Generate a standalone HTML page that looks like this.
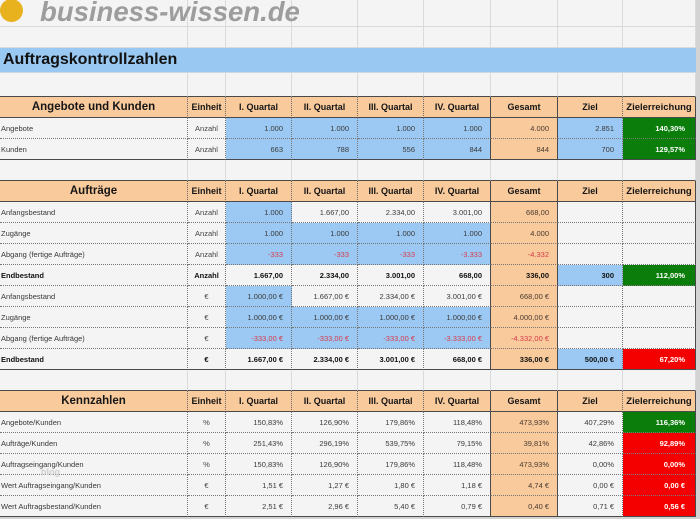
<!DOCTYPE html>
<html><head><meta charset="utf-8">
<style>
html,body{margin:0;padding:0}
body{width:700px;height:519px;overflow:hidden;background:#d3d3d3;position:relative;font-family:"Liberation Sans",Arial,sans-serif}
.g{position:absolute;left:0;top:0;width:696px;display:grid;
grid-template-columns:188px 38px 66px 66px 66px 67px 67px 65px 73px;
grid-template-rows:27px 21px 25px 24px 21px 21px 21px 21px 21px 21px 21px 21px 21px 21px 21px 21px 21px 21px 21px 21px 21px 21px 21px 21px;}
.g>*{box-sizing:border-box;display:flex;align-items:center;background:#f4f4f4;border-right:1px solid #dadada;border-bottom:1px solid #dadada;font-size:7.5px;color:#3a3a3a;white-space:nowrap;overflow:hidden}
.tb{border-bottom:1px solid #4a4a4a}
.title{grid-column:1 / span 9;background:#99c8f2;font-weight:bold;font-size:16px;color:#111;padding-left:3px;border-right:none;border-bottom:1px solid #cfd8e0}
.h{background:#f8ca9c;font-weight:bold;font-size:9px;color:#161616;justify-content:center;border-bottom:1px solid #4a4a4a;border-right:1px dotted #6a6a6a}
.hA{font-size:11.5px}
.hZ{font-size:9.5px}
.l{padding-left:1px;border-right:1px dotted #777;border-bottom:1px dotted #777;color:#383838}
.u{justify-content:center;border-right:1px dotted #777;border-bottom:1px dotted #777;color:#444}
.n{justify-content:flex-end;padding-right:8px;border-right:1px dotted #777;border-bottom:1px dotted #777;color:#3a3a3a}
.B{background:#9cc9f3}
.P{background:#f8ca9c;color:#4a3a30}
.G{background:#0b7d0b;color:#fff;font-weight:bold;padding-right:10px}
.R{background:#f50000;color:#fff;font-weight:bold;padding-right:10px}
.r{color:#d83a4a}
.b{font-weight:bold;color:#111}
.s{border-right:1px solid #4a4a4a}
.z{border-bottom:1px solid #4a4a4a}
.logo{position:absolute;left:0;top:-1px;width:23px;height:23px;border-radius:50%;background:#e8b21e}
.brand{position:absolute;left:40px;top:-2px;line-height:27px;font-size:27.5px;font-weight:bold;font-style:italic;color:#9d9d9d;white-space:nowrap}
.blog{position:absolute;left:41px;top:467px;font-size:9px;font-weight:bold;color:#cfcfcf}
</style></head><body>
<div class="g">
<!-- row 1 -->
<div></div><div></div><div></div><div></div><div></div><div></div><div></div><div></div><div></div>
<!-- row 2 -->
<div></div><div></div><div></div><div></div><div></div><div></div><div></div><div></div><div></div>
<!-- row 3 -->
<div class="title">Auftragskontrollzahlen</div>
<!-- row 4 -->
<div class="tb"></div><div class="tb"></div><div class="tb"></div><div class="tb"></div><div class="tb"></div><div class="tb"></div><div class="tb"></div><div class="tb"></div><div class="tb"></div>
<!-- row 5 header -->
<div class="h hA">Angebote und Kunden</div><div class="h">Einheit</div><div class="h">I. Quartal</div><div class="h">II. Quartal</div><div class="h">III. Quartal</div><div class="h s">IV. Quartal</div><div class="h s">Gesamt</div><div class="h">Ziel</div><div class="h hZ s">Zielerreichung</div>
<!-- row 6 -->
<div class="l">Angebote</div><div class="u">Anzahl</div><div class="n B">1.000</div><div class="n B">1.000</div><div class="n B">1.000</div><div class="n B s">1.000</div><div class="n P s">4.000</div><div class="n B">2.851</div><div class="n G s">140,30%</div>
<!-- row 7 -->
<div class="l z">Kunden</div><div class="u z">Anzahl</div><div class="n B z">663</div><div class="n B z">788</div><div class="n B z">556</div><div class="n B s z">844</div><div class="n P s z">844</div><div class="n B z">700</div><div class="n G s z">129,57%</div>
<!-- row 8 -->
<div class="tb"></div><div class="tb"></div><div class="tb"></div><div class="tb"></div><div class="tb"></div><div class="tb"></div><div class="tb"></div><div class="tb"></div><div class="tb"></div>
<!-- row 9 header -->
<div class="h hA">Aufträge</div><div class="h">Einheit</div><div class="h">I. Quartal</div><div class="h">II. Quartal</div><div class="h">III. Quartal</div><div class="h s">IV. Quartal</div><div class="h s">Gesamt</div><div class="h">Ziel</div><div class="h hZ s">Zielerreichung</div>
<!-- row 10 -->
<div class="l">Anfangsbestand</div><div class="u">Anzahl</div><div class="n B">1.000</div><div class="n">1.667,00</div><div class="n">2.334,00</div><div class="n s">3.001,00</div><div class="n P s">668,00</div><div class="n"></div><div class="n s"></div>
<!-- row 11 -->
<div class="l">Zugänge</div><div class="u">Anzahl</div><div class="n B">1.000</div><div class="n B">1.000</div><div class="n B">1.000</div><div class="n B s">1.000</div><div class="n P s">4.000</div><div class="n"></div><div class="n s"></div>
<!-- row 12 -->
<div class="l">Abgang (fertige Aufträge)</div><div class="u">Anzahl</div><div class="n B r">-333</div><div class="n B r">-333</div><div class="n B r">-333</div><div class="n B s r">-3.333</div><div class="n P s r">-4.332</div><div class="n"></div><div class="n s"></div>
<!-- row 13 -->
<div class="l b">Endbestand</div><div class="u b">Anzahl</div><div class="n b">1.667,00</div><div class="n b">2.334,00</div><div class="n b">3.001,00</div><div class="n b s">668,00</div><div class="n P b s">336,00</div><div class="n B b">300</div><div class="n G s">112,00%</div>
<!-- row 14 -->
<div class="l">Anfangsbestand</div><div class="u">€</div><div class="n B">1.000,00 €</div><div class="n">1.667,00 €</div><div class="n">2.334,00 €</div><div class="n s">3.001,00 €</div><div class="n P s">668,00 €</div><div class="n"></div><div class="n s"></div>
<!-- row 15 -->
<div class="l">Zugänge</div><div class="u">€</div><div class="n B">1.000,00 €</div><div class="n B">1.000,00 €</div><div class="n B">1.000,00 €</div><div class="n B s">1.000,00 €</div><div class="n P s">4.000,00 €</div><div class="n"></div><div class="n s"></div>
<!-- row 16 -->
<div class="l">Abgang (fertige Aufträge)</div><div class="u">€</div><div class="n B r">-333,00 €</div><div class="n B r">-333,00 €</div><div class="n B r">-333,00 €</div><div class="n B s r">-3.333,00 €</div><div class="n P s r">-4.332,00 €</div><div class="n"></div><div class="n s"></div>
<!-- row 17 -->
<div class="l b z">Endbestand</div><div class="u b z">€</div><div class="n b z">1.667,00 €</div><div class="n b z">2.334,00 €</div><div class="n b z">3.001,00 €</div><div class="n b s z">668,00 €</div><div class="n P b s z">336,00 €</div><div class="n B b z">500,00 €</div><div class="n R s z">67,20%</div>
<!-- row 18 -->
<div class="tb"></div><div class="tb"></div><div class="tb"></div><div class="tb"></div><div class="tb"></div><div class="tb"></div><div class="tb"></div><div class="tb"></div><div class="tb"></div>
<!-- row 19 header -->
<div class="h hA">Kennzahlen</div><div class="h">Einheit</div><div class="h">I. Quartal</div><div class="h">II. Quartal</div><div class="h">III. Quartal</div><div class="h s">IV. Quartal</div><div class="h s">Gesamt</div><div class="h">Ziel</div><div class="h hZ s">Zielerreichung</div>
<!-- row 20 -->
<div class="l">Angebote/Kunden</div><div class="u">%</div><div class="n">150,83%</div><div class="n">126,90%</div><div class="n">179,86%</div><div class="n s">118,48%</div><div class="n P s">473,93%</div><div class="n">407,29%</div><div class="n G s">116,36%</div>
<!-- row 21 -->
<div class="l">Aufträge/Kunden</div><div class="u">%</div><div class="n">251,43%</div><div class="n">296,19%</div><div class="n">539,75%</div><div class="n s">79,15%</div><div class="n P s">39,81%</div><div class="n">42,86%</div><div class="n R s">92,89%</div>
<!-- row 22 -->
<div class="l">Auftragseingang/Kunden</div><div class="u">%</div><div class="n">150,83%</div><div class="n">126,90%</div><div class="n">179,86%</div><div class="n s">118,48%</div><div class="n P s">473,93%</div><div class="n">0,00%</div><div class="n R s">0,00%</div>
<!-- row 23 -->
<div class="l">Wert Auftragseingang/Kunden</div><div class="u">€</div><div class="n">1,51 €</div><div class="n">1,27 €</div><div class="n">1,80 €</div><div class="n s">1,18 €</div><div class="n P s">4,74 €</div><div class="n">0,00 €</div><div class="n R s">0,00 €</div>
<!-- row 24 -->
<div class="l z">Wert Auftragsbestand/Kunden</div><div class="u z">€</div><div class="n z">2,51 €</div><div class="n z">2,96 €</div><div class="n z">5,40 €</div><div class="n s z">0,79 €</div><div class="n P s z">0,40 €</div><div class="n z">0,71 €</div><div class="n R s z">0,56 €</div>
</div>
<div class="logo"></div>
<div class="brand">business-wissen.de</div>
<div class="blog">blog</div>
</body></html>
